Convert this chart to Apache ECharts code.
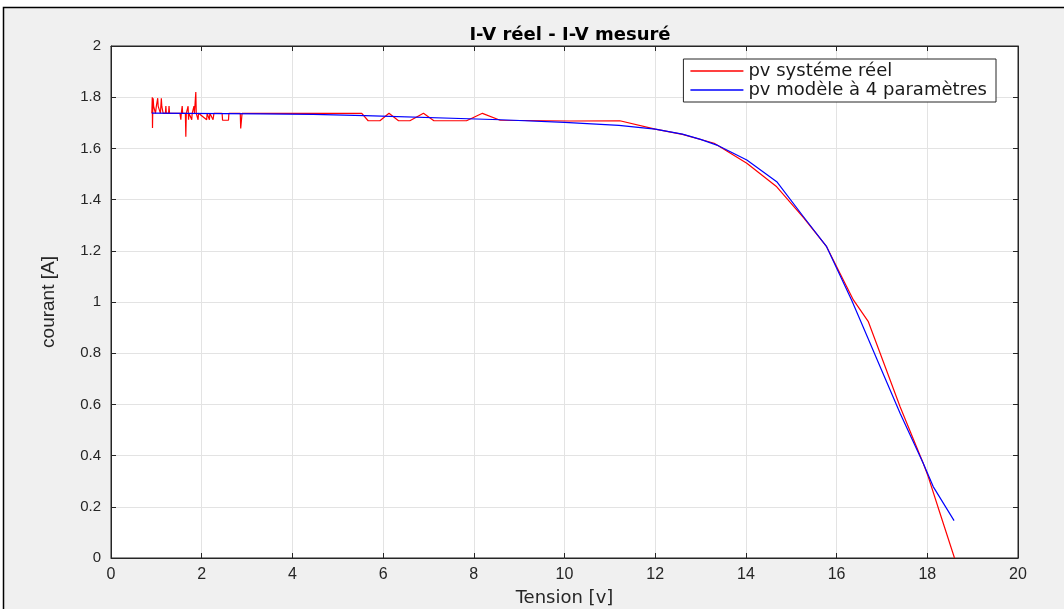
<!DOCTYPE html>
<html>
<head>
<meta charset="utf-8">
<script src="https://cdn.jsdelivr.net/npm/echarts@6/dist/echarts.min.js"></script>
<style>
html,body{margin:0;padding:0;background:#fff;}
#chart{width:1064px;height:609px;}
</style>
</head>
<body>
<div id="chart"></div>
<script>
// ---- Data ----
const titleText = 'I-V réel - I-V mesuré';
const xName = 'Tension [v]';
const yName = 'courant [A]';
const seriesNames = ['pv systéme réel', 'pv modèle à 4 paramètres'];
const xTicks = [0, 2, 4, 6, 8, 10, 12, 14, 16, 18, 20];
const yTicks = [0, 0.2, 0.4, 0.6, 0.8, 1, 1.2, 1.4, 1.6, 1.8, 2];

// measured (real) curve: [tension V, current A]
const realV = [0.90,0.91,0.915,0.92,0.93,0.94,0.97,0.98,1.00,1.03,1.04,1.08,1.09,1.11,1.12,1.15,1.20,1.21,1.22,1.27,1.28,1.29,
  1.52,1.54,1.55,1.57,1.58,1.64,1.65,1.66,1.70,1.71,1.72,1.78,1.79,1.83,1.84,1.87,1.88,1.92,1.93,2.11,2.12,2.17,2.18,2.25,2.27,
  2.45,2.46,2.59,2.60,2.85,2.86,2.88,2.89,
  5.53,5.67,5.93,6.13,6.34,6.59,6.89,7.12,7.84,8.19,8.58,10.12,11.22,12.0,12.6,13.3,14.02,14.68,15.27,15.78,16.37,16.70,16.96,17.40,17.91,18.02,18.28,18.60];
const realI = [1.737,1.80,1.68,1.737,1.796,1.765,1.765,1.737,1.765,1.796,1.765,1.765,1.737,1.796,1.765,1.737,1.737,1.765,1.737,1.737,1.765,1.737,
  1.737,1.712,1.737,1.765,1.737,1.737,1.646,1.737,1.765,1.712,1.737,1.712,1.737,1.765,1.737,1.82,1.737,1.712,1.737,1.712,1.737,1.712,1.737,1.712,1.737,
  1.737,1.71,1.71,1.737,1.737,1.678,1.678,1.737,
  1.737,1.708,1.708,1.737,1.708,1.708,1.737,1.708,1.708,1.737,1.71,1.707,1.708,1.675,1.655,1.62,1.542,1.45,1.33,1.216,1.008,0.923,0.80,0.591,0.37,0.318,0.175,0.0];

// 4-parameter model curve
const modelV = [0.90,3.30,4.46,4.50,5.60,8.60,10.0,11.2,12.0,12.6,13.0,13.36,14.02,14.68,15.27,15.78,16.33,16.52,16.96,17.40,17.91,18.13,18.59];
const modelI = [1.738,1.735,1.733,1.730,1.728,1.712,1.702,1.690,1.675,1.656,1.635,1.613,1.555,1.470,1.333,1.216,1.008,0.930,0.747,0.565,0.370,0.279,0.146];

const zip = (a, b) => a.map((v, i) => [v, b[i]]);

const chart = echarts.init(document.getElementById('chart'));
const axisColor = '#262626';
const gridColor = '#e3e3e3';
const tickFontY = {color: axisColor, fontSize: 15, fontFamily: 'Liberation Sans, Arial, sans-serif'};
const tickFontX = {color: axisColor, fontSize: 16, fontFamily: 'Liberation Sans, Arial, sans-serif'};

const xBase = {
  type: 'value', min: xTicks[0], max: xTicks[xTicks.length-1], interval: xTicks[1]-xTicks[0],
  axisLine: {show: true, onZero: false, lineStyle: {color: axisColor, width: 1}},
  axisTick: {show: true, inside: true, length: 5, lineStyle: {color: axisColor}},
  splitLine: {show: false}
};
const yBase = {
  type: 'value', min: yTicks[0], max: yTicks[yTicks.length-1], interval: 0.2,
  axisLine: {show: true, onZero: false, lineStyle: {color: axisColor, width: 1}},
  axisTick: {show: true, inside: true, length: 5, lineStyle: {color: axisColor}},
  splitLine: {show: false}
};

chart.setOption({
  animation: false,
  backgroundColor: '#ffffff',
  graphic: {
    elements: [{
      type: 'rect', z: -100, silent: true,
      shape: {x: 3.5, y: 7.5, width: 1100, height: 700},
      style: {fill: '#f0f0f0', stroke: '#000', lineWidth: 1.5}
    }]
  },
  title: {
    text: titleText, left: 565, top: 21, textAlign: 'center',
    textStyle: {fontSize: 18, fontWeight: 'bold', color: '#000', fontFamily: 'DejaVu Sans, Arial, sans-serif'}
  },
  legend: {
    orient: 'vertical', right: 68, top: 59,
    backgroundColor: '#fff', borderColor: axisColor, borderWidth: 1,
    padding: [3, 9, 3, 7], itemGap: 1,
    icon: 'rect', itemWidth: 53, itemHeight: 1.5,
    textStyle: {fontSize: 18, lineHeight: 17, color: '#1a1a1a', fontFamily: 'DejaVu Sans, Arial, sans-serif'},
    data: seriesNames
  },
  grid: {left: 111, right: 46, top: 46, bottom: 51, containLabel: false, outerBoundsMode: 'none',
         show: true, backgroundColor: '#fff', borderColor: axisColor, borderWidth: 1},
  xAxis: [
    Object.assign({}, xBase, {
      position: 'bottom',
      name: xName, nameLocation: 'middle', nameGap: 31,
      nameTextStyle: {fontSize: 18, color: axisColor, fontFamily: 'DejaVu Sans, Arial, sans-serif'},
      axisLabel: {show: true, margin: 9, ...tickFontX},
      splitLine: {show: true, lineStyle: {color: gridColor, width: 1}}
    }),
    Object.assign({}, xBase, {position: 'top', axisLabel: {show: false}})
  ],
  yAxis: [
    Object.assign({}, yBase, {
      position: 'left',
      name: yName, nameLocation: 'middle', nameGap: 53, nameRotate: 90,
      nameTextStyle: {fontSize: 19, color: axisColor, fontFamily: 'Liberation Sans Narrow, Liberation Sans, Arial, sans-serif'},
      axisLabel: {show: true, margin: 10, ...tickFontY, formatter: v => String(+v.toFixed(1))},
      splitLine: {show: true, lineStyle: {color: gridColor, width: 1}}
    }),
    Object.assign({}, yBase, {position: 'right', axisLabel: {show: false}})
  ],
  series: [
    {name: seriesNames[0], type: 'line', data: zip(realV, realI), showSymbol: false, symbol: 'none',
     lineStyle: {color: '#ff0000', width: 1.2}, itemStyle: {color: '#ff0000'}, z: 2},
    {name: seriesNames[1], type: 'line', data: zip(modelV, modelI), showSymbol: false, symbol: 'none',
     lineStyle: {color: '#0000ff', width: 1.2}, itemStyle: {color: '#0000ff'}, z: 3}
  ]
});
</script>
</body>
</html>
